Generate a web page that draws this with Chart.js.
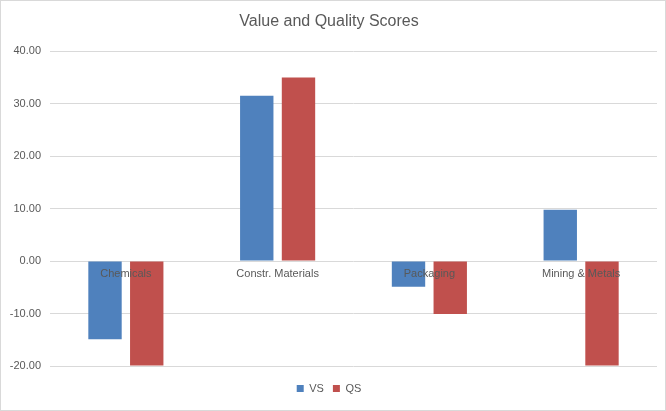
<!DOCTYPE html>
<html lang="en">
<head>
<meta charset="UTF-8">
<title>Value and Quality Scores</title>
<script src="https://cdn.jsdelivr.net/npm/chart.js"></script>
<style>
    body { margin: 0; background: #fff; }
    .wrap { width: 664px; height: 409px; border: 1px solid #d9d9d9; }
</style>
</head>
<body>
<div class="wrap">
    <canvas id="scoreChart" width="664" height="409"></canvas>
</div>
<script>
    // Data
    const categories = ["Chemicals", "Constr. Materials", "Packaging", "Mining & Metals"];
    const vsValues = [-14.9, 31.5, -4.9, 9.8];
    const qsValues = [-19.9, 35.0, -10.1, -19.9];

    const textColor = "#595959";
    const fontFamily = "'Liberation Sans', Arial, sans-serif";

    // Category labels sit just under the zero line, like the original
    const zeroLabels = {
        id: "zeroLabels",
        afterDatasetsDraw(chart) {
            const { ctx, scales } = chart;
            const y0 = scales.y.getPixelForValue(0);
            ctx.save();
            ctx.fillStyle = textColor;
            ctx.font = "11px " + fontFamily;
            ctx.textAlign = "center";
            ctx.textBaseline = "top";
            categories.forEach((c, i) => {
                ctx.fillText(c, scales.x.getPixelForValue(i), y0 + 7);
            });
            ctx.restore();
        }
    };

    new Chart(document.getElementById("scoreChart"), {
        type: "bar",
        data: {
            labels: categories,
            datasets: [
                { label: "VS", data: vsValues, backgroundColor: "#4f81bd" },
                { label: "QS", data: qsValues, backgroundColor: "#c0504d" }
            ]
        },
        options: {
            responsive: false,
            animation: false,
            layout: { padding: { top: 11, right: 8, bottom: 6, left: 0 } },
            datasets: { bar: { categoryPercentage: 0.55, barPercentage: 0.8 } },
            plugins: {
                title: {
                    display: true,
                    text: "Value and Quality Scores",
                    color: textColor,
                    font: { family: fontFamily, size: 16, weight: "normal" },
                    padding: { top: 0, bottom: 20 }
                },
                legend: {
                    position: "bottom",
                    labels: {
                        color: textColor,
                        font: { family: fontFamily, size: 11 },
                        boxWidth: 7,
                        boxHeight: 7,
                        padding: 9
                    }
                },
                tooltip: { enabled: false }
            },
            scales: {
                x: {
                    ticks: { display: false },
                    grid: { display: false },
                    border: { display: false }
                },
                y: {
                    min: -20,
                    max: 40,
                    afterFit: (scale) => { scale.width = 49; },
                    ticks: {
                        stepSize: 10,
                        padding: 9,
                        color: textColor,
                        font: { family: fontFamily, size: 11 },
                        callback: v => v.toFixed(2)
                    },
                    grid: { color: "#d9d9d9", drawTicks: false },
                    border: { display: false }
                }
            }
        },
        plugins: [zeroLabels]
    });
</script>
</body>
</html>
